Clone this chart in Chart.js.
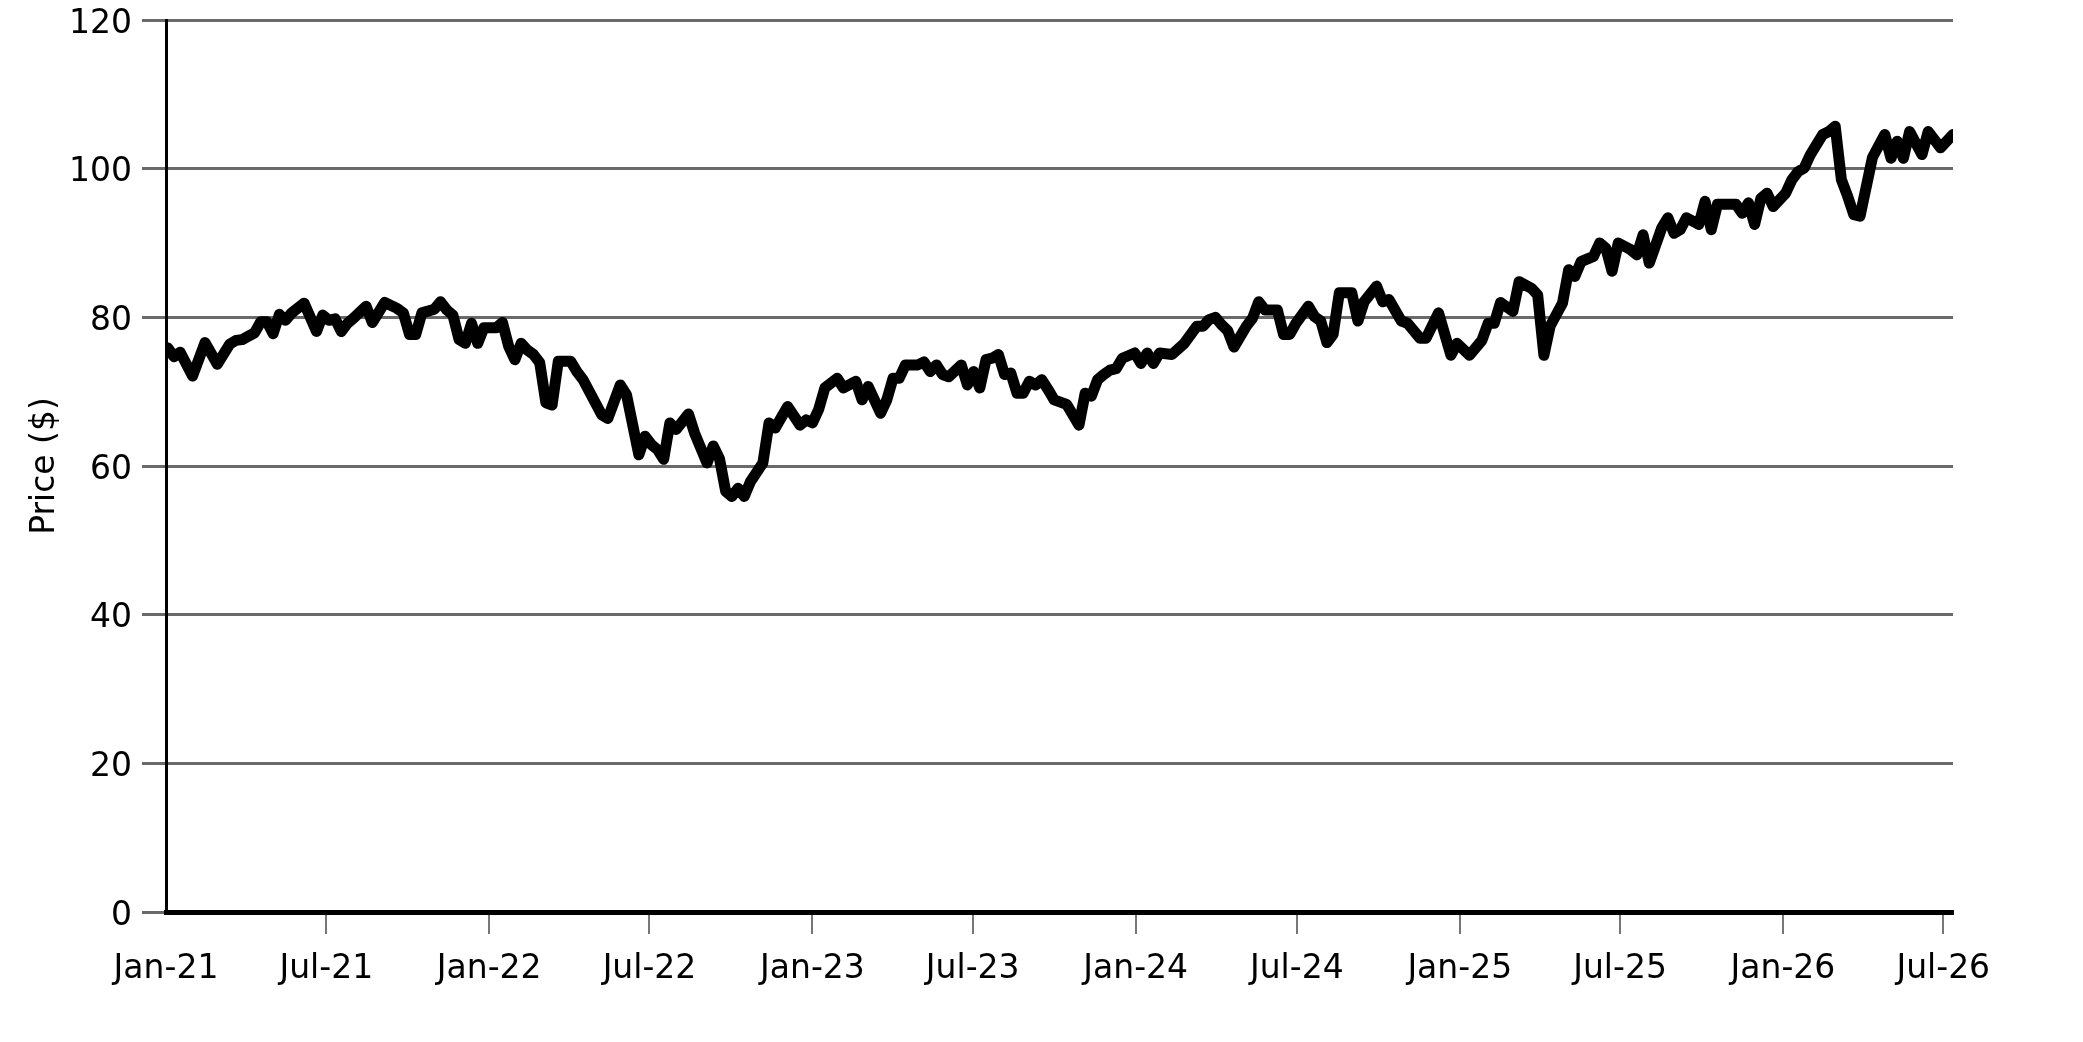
<!DOCTYPE html>
<html>
<head>
<meta charset="utf-8">
<title>Price</title>
<script src="https://cdn.jsdelivr.net/npm/chart.js@4.4.1/dist/chart.umd.min.js"></script>
<style>
  html, body { margin: 0; padding: 0; background: #fff; }
  #wrap { width: 2083px; height: 1042px; }
</style>
</head>
<body>
<div id="wrap"><canvas id="chart" width="2083" height="1042"></canvas></div>
<script>
// Weekly closes, week 0 = first data week
const startDate = '2021-01-03';

const weeks = [
  0, 1, 2, 4, 6, 8, 10, 11, 12, 14, 15, 16, 17, 18, 19, 20, 22, 24, 25, 26,
  27, 28, 29, 30, 32, 33, 35, 37, 38, 39, 40, 41, 43, 44, 45, 46, 47, 48, 49, 50,
  51, 53, 54, 55, 56, 57, 58, 59, 60, 61, 62, 63, 65, 66, 67, 70, 71, 73, 74, 76,
  77, 78, 79, 80, 81, 82, 84, 85, 87, 88, 89, 90, 91, 92, 93, 94, 96, 97, 98, 100,
  102, 103, 104, 105, 106, 108, 109, 111, 112, 113, 115, 116, 117, 118, 119, 121, 122, 123, 124, 125,
  126, 128, 129, 130, 131, 132, 133, 134, 135, 136, 137, 138, 139, 140, 141, 142, 143, 145, 147, 148,
  149, 150, 151, 152, 153, 154, 156, 157, 158, 159, 160, 162, 164, 166, 167, 168, 169, 170, 171, 172,
  174, 175, 176, 177, 179, 180, 181, 182, 184, 185, 186, 187, 188, 189, 191, 192, 193, 195, 196, 197,
  199, 200, 202, 203, 205, 207, 208, 210, 212, 213, 214, 215, 217, 218, 220, 221, 222, 223, 225, 226,
  227, 228, 230, 231, 232, 233, 234, 236, 237, 238, 239, 241, 242, 243, 244, 245, 247, 248, 249, 250,
  253, 254, 255, 256, 257, 258, 259, 261, 262, 263, 264, 265, 267, 268, 269, 270, 271, 272, 273, 275,
  277, 278, 279, 280, 281, 283, 284, 286, 288
];

const prices = [
  75.9, 74.7, 75.3, 72.1, 76.6, 73.7, 76.4, 76.9, 77.0, 77.9, 79.4, 79.4, 77.8, 80.4, 79.6, 80.6, 81.9, 78.1, 80.3, 79.6,
  79.8, 78.1, 79.2, 79.9, 81.5, 79.3, 82.0, 81.2, 80.6, 77.7, 77.7, 80.6, 81.1, 82.1, 81.0, 80.3, 77.0, 76.5, 79.2, 76.5,
  78.6, 78.6, 79.3, 76.1, 74.3, 76.5, 75.6, 75.0, 73.9, 68.5, 68.2, 74.1, 74.1, 72.7, 71.6, 66.9, 66.4, 70.9, 69.6, 61.5,
  64.0, 62.9, 62.2, 60.9, 65.8, 64.9, 67.0, 64.4, 60.4, 62.7, 61.0, 56.6, 55.9, 57.0, 55.9, 57.9, 60.4, 65.8, 65.1, 68.0,
  65.5, 66.2, 65.8, 67.6, 70.5, 71.8, 70.5, 71.4, 68.9, 70.7, 67.1, 68.9, 71.8, 71.8, 73.6, 73.6, 74.0, 72.7, 73.6, 72.3,
  72.0, 73.6, 70.9, 72.7, 70.5, 74.3, 74.5, 75.0, 72.3, 72.5, 69.8, 69.8, 71.4, 70.9, 71.6, 70.3, 68.9, 68.3, 65.5, 69.8,
  69.4, 71.6, 72.3, 72.9, 73.1, 74.5, 75.2, 73.8, 75.2, 73.8, 75.2, 75.0, 76.5, 78.8, 78.8, 79.7, 80.0, 79.0, 78.2, 76.0,
  78.8, 79.9, 82.1, 81.0, 81.0, 77.7, 77.7, 79.2, 81.5, 80.1, 79.5, 76.6, 77.7, 83.3, 83.3, 79.5, 82.1, 84.2, 82.1, 82.4,
  79.5, 79.2, 77.2, 77.2, 80.6, 74.9, 76.5, 74.9, 76.9, 79.2, 79.2, 82.0, 80.8, 84.8, 83.9, 83.0, 74.9, 78.8, 81.9, 86.4,
  85.5, 87.5, 88.2, 90.0, 89.3, 86.2, 90.0, 89.1, 88.4, 91.1, 87.3, 92.0, 93.4, 91.3, 91.8, 93.4, 92.5, 95.6, 91.8, 95.2,
  95.2, 94.0, 95.4, 92.5, 96.0, 96.7, 94.9, 96.7, 98.5, 99.6, 100.1, 101.9, 104.6, 105.0, 105.7, 98.5, 96.3, 93.8, 93.6, 101.5,
  104.6, 101.4, 103.7, 101.4, 105.0, 101.9, 105.0, 102.8, 104.6
];

const tickDates = [
  '2021-01-01', '2021-07-01', '2022-01-01', '2022-07-01', '2023-01-01', '2023-07-01',
  '2024-01-01', '2024-07-01', '2025-01-01', '2025-07-01', '2026-01-01', '2026-07-01'
];
const tickLabels = [
  'Jan-21', 'Jul-21', 'Jan-22', 'Jul-22', 'Jan-23', 'Jul-23',
  'Jan-24', 'Jul-24', 'Jan-25', 'Jul-25', 'Jan-26', 'Jul-26'
];
const yTicks = [0, 20, 40, 60, 80, 100, 120];

const DAY = 86400000;
const origin = Date.parse('2021-01-01');
const toDay = s => (Date.parse(s) - origin) / DAY;

const startDay = toDay(startDate);
const points = weeks.map((w, i) => ({ x: startDay + w * 7, y: prices[i] }));
const tickDays = tickDates.map(toDay);
const lastDay = points[points.length - 1].x;

const font = { family: "'DejaVu Sans', sans-serif", size: 33 };

new Chart(document.getElementById('chart'), {
  type: 'line',
  data: {
    datasets: [{
      data: points,
      borderColor: '#000',
      borderWidth: 11,
      pointRadius: 0,
      tension: 0,
      fill: false,
      borderJoinStyle: 'round',
      borderCapStyle: 'round'
    }]
  },
  options: {
    responsive: false,
    animation: false,
    devicePixelRatio: 1,
    layout: { padding: { top: 20, right: 130, bottom: 0, left: 0 } },
    plugins: { legend: { display: false }, tooltip: { enabled: false } },
    scales: {
      x: {
        type: 'linear',
        min: 0,
        max: lastDay,
        afterBuildTicks: s => { s.ticks = tickDays.map(v => ({ value: v })); },
        afterFit: s => {
          s.height = 130;
          s.paddingLeft = 0;
          s.paddingRight = 0;
        },
        grid: {
          drawOnChartArea: false,
          tickLength: 22,
          lineWidth: 2,
          color: c => (c.index === 0 ? 'rgba(0,0,0,0)' : '#777')
        },
        border: { color: '#000', width: 5 },
        ticks: {
          autoSkip: false,
          maxRotation: 0,
          padding: 16,
          color: '#000',
          font,
          callback: (v, i) => tickLabels[i]
        }
      },
      y: {
        min: 0,
        max: 120,
        afterBuildTicks: s => { s.ticks = yTicks.map(v => ({ value: v })); },
        afterFit: s => {
          s.width = 166;
          s.paddingTop = 0;
          s.paddingBottom = 0;
        },
        grid: { color: '#6a6a6a', lineWidth: 3, tickLength: 24 },
        border: { color: '#000', width: 3 },
        ticks: { padding: 10, labelOffset: 4, color: '#000', font, callback: v => String(v) },
        title: {
          display: true,
          text: 'Price ($)',
          color: '#000',
          font,
          padding: { top: 26, bottom: 0 }
        }
      }
    }
  }
});
</script>
</body>
</html>
